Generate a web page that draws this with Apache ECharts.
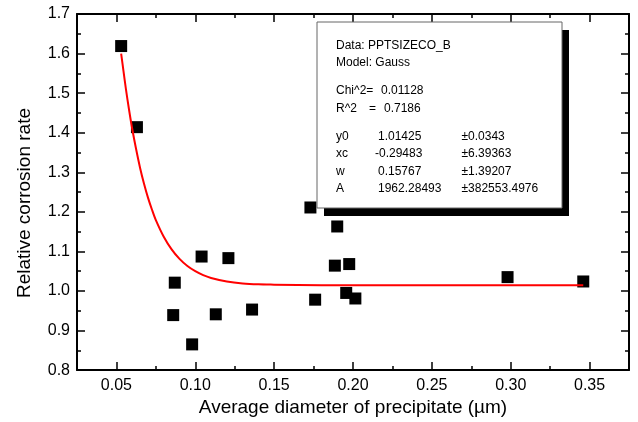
<!DOCTYPE html>
<html>
<head>
<meta charset="utf-8">
<script src="https://cdn.jsdelivr.net/npm/echarts@6/dist/echarts.min.js"></script>
<style>
html,body{margin:0;padding:0;background:#fff;}
#chart{width:638px;height:422px;}
</style>
</head>
<body>
<div id="chart"></div>
<script>
// Measured data points (x: average diameter in µm, y: relative corrosion rate)
const pointX = [0.053, 0.063, 0.086, 0.087, 0.098, 0.104, 0.113, 0.121, 0.136, 0.173, 0.176, 0.1885, 0.190, 0.1957, 0.1976, 0.2015, 0.298, 0.346];
const pointY = [1.619, 1.414, 0.939, 1.021, 0.865, 1.087, 0.941, 1.083, 0.953, 1.211, 0.978, 1.064, 1.163, 0.995, 1.068, 0.981, 1.035, 1.024];

// Fitted curve
const fitX = [0.053, 0.0545, 0.056, 0.058, 0.060, 0.0625, 0.065, 0.0675, 0.070, 0.0725, 0.075, 0.080, 0.085, 0.090, 0.095, 0.100, 0.105, 0.110, 0.120, 0.130, 0.140, 0.150, 0.180, 0.220, 0.280, 0.346];
const fitY = [1.600, 1.555, 1.511, 1.458, 1.410, 1.358, 1.311, 1.271, 1.236, 1.206, 1.179, 1.137, 1.105, 1.081, 1.063, 1.050, 1.040, 1.033, 1.024, 1.019, 1.0167, 1.016, 1.0145, 1.0143, 1.0143, 1.0143];

// Tick values
const xMajorTicks = [0.05, 0.10, 0.15, 0.20, 0.25, 0.30, 0.35];
const xMinorTicks = [0.075, 0.125, 0.175, 0.225, 0.275, 0.325];

// Fit report text
const reportHead = ['Data: PPTSIZECO_B', 'Model: Gauss'];
const chiLabel = 'Chi^2=', chiValue = '0.01128';
const r2Label = 'R^2', r2Value = '0.7186';
const paramNames = ['y0', 'xc', 'w', 'A'];
const paramValues = ['1.01425', '-0.29483', '0.15767', '1962.28493'];
const paramErrors = ['\u00b10.0343', '\u00b16.39363', '\u00b11.39207', '\u00b1382553.4976'];

const FONT = 'Liberation Sans, Arial, Helvetica, sans-serif';
const scatterData = pointX.map((x, i) => [x, pointY[i]]);
const fitData = fitX.map((x, i) => [x, fitY[i]]);

function xAxisCfg(pos, ticks, len, showLine, showLabel, extra) {
  return Object.assign({
    type: 'value', position: pos, min: 0.025, max: 0.375,
    axisLine: {show: showLine, onZero: false, lineStyle: {color: '#000', width: 2}},
    axisTick: {show: true, inside: true, length: len, customValues: ticks, lineStyle: {color: '#000', width: 1.5}},
    axisLabel: showLabel ? {show: true, customValues: ticks, formatter: v => v.toFixed(2), fontSize: 16, color: '#000', fontFamily: FONT, margin: 7} : {show: false},
    splitLine: {show: false}
  }, extra || {});
}
function yAxisCfg(pos, showLabel, extra) {
  return Object.assign({
    type: 'value', position: pos, min: 0.8, max: 1.7, interval: 0.1,
    axisLine: {show: true, onZero: false, lineStyle: {color: '#000', width: 2}},
    axisTick: {show: true, inside: true, length: 8, lineStyle: {color: '#000', width: 1.5}},
    minorTick: {show: true, splitNumber: 2, length: 4, lineStyle: {color: '#000', width: 1.5}},
    axisLabel: showLabel ? {show: true, formatter: v => v.toFixed(1), fontSize: 16, color: '#000', fontFamily: FONT, margin: 7} : {show: false},
    splitLine: {show: false}
  }, extra || {});
}

const graphics = [
  {type: 'rect', z: 100, shape: {x: 324, y: 30, width: 245, height: 186}, style: {fill: '#000'}},
  {type: 'rect', z: 101, shape: {x: 317, y: 22, width: 245, height: 186}, style: {fill: '#fff', stroke: '#666', lineWidth: 1}}
];
function addText(x, y, t) {
  graphics.push({type: 'text', z: 102, x: x, y: y, style: {text: t, fontSize: 12, fontFamily: FONT, fill: '#000', verticalAlign: 'middle'}});
}
addText(336, 46, reportHead[0]);
addText(336, 62.5, reportHead[1]);
addText(336, 91, chiLabel);
addText(381, 91, chiValue);
addText(336, 108.5, r2Label);
addText(369, 108.5, '=');
addText(384, 108.5, r2Value);
const rowY = [136.5, 154, 171.5, 189];
paramNames.forEach((n, i) => {
  addText(336, rowY[i], n);
  addText(paramValues[i].startsWith('-') ? 375 : 378, rowY[i], paramValues[i]);
  addText(461.5, rowY[i], paramErrors[i]);
});

const chart = echarts.init(document.getElementById('chart'), null, {renderer: 'canvas'});
chart.setOption({
  animation: false,
  backgroundColor: '#fff',
  grid: {left: 77, right: 9, top: 14, bottom: 51, containLabel: false},
  xAxis: [
    xAxisCfg('bottom', xMajorTicks, 8, true, true, {
      name: 'Average diameter of precipitate (\u00b5m)', nameLocation: 'middle', nameGap: 24,
      nameTextStyle: {fontSize: 19, color: '#000', fontFamily: FONT}
    }),
    xAxisCfg('bottom', xMinorTicks, 4, false, false),
    xAxisCfg('top', xMajorTicks, 8, true, false),
    xAxisCfg('top', xMinorTicks, 4, false, false)
  ],
  yAxis: [
    yAxisCfg('left', true, {
      name: 'Relative corrosion rate', nameLocation: 'middle', nameGap: 43,
      nameTextStyle: {fontSize: 19, color: '#000', fontFamily: FONT, padding: [0, 22, 0, 0]}
    }),
    yAxisCfg('right', false)
  ],
  series: [
    {type: 'scatter', xAxisIndex: 0, yAxisIndex: 0, data: scatterData, symbol: 'rect', symbolSize: 12,
     itemStyle: {color: '#000', opacity: 1}, z: 3},
    {type: 'line', xAxisIndex: 0, yAxisIndex: 0, data: fitData, showSymbol: false, smooth: 0.3,
     lineStyle: {color: '#ff0000', width: 2}, z: 4}
  ],
  graphic: graphics
});
</script>
</body>
</html>
